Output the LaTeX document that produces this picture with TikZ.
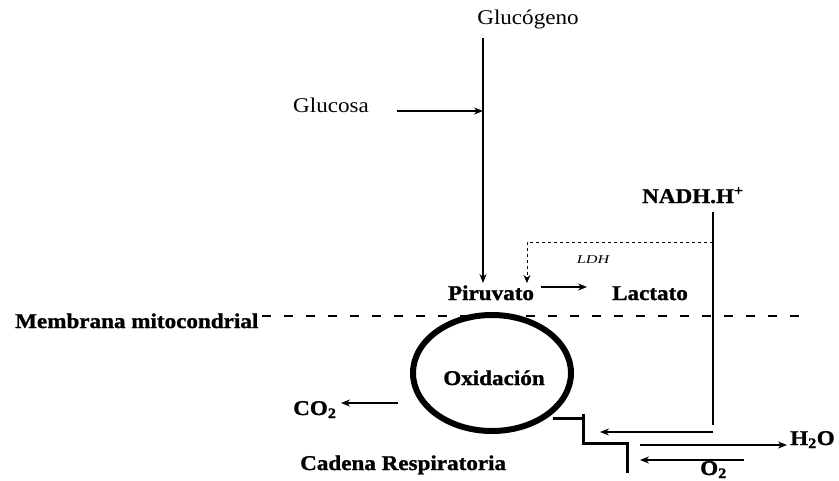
\documentclass[tikz,border=0pt]{standalone}
\usepackage{fontspec}
\setmainfont{Liberation Serif}[FakeStretch=1.1,BoldFeatures={FakeStretch=1.1,FakeBold=1.2}]
\newfontfamily\ldhfont{Liberation Serif}[FakeStretch=1.35]
\usetikzlibrary{arrows.meta}
\begin{document}
\begin{tikzpicture}[x=1pt,y=-1pt,
  txt/.style={inner sep=0pt,font=\fontsize{21}{24}\selectfont},
  btxt/.style={inner sep=0pt,font=\fontsize{21}{24}\selectfont\bfseries},
  arr/.style={line width=1.3pt,-{Stealth[length=9pt,width=7pt]}},
  ln/.style={line width=1.3pt},
  stair/.style={line width=3pt},
  memb/.style={line width=2.5pt,dash pattern=on 9pt off 13pt},
  dots/.style={line width=1pt,dash pattern=on 3pt off 3pt,-{Stealth[length=8pt,width=7pt]}}]
\useasboundingbox (0,0) rectangle (839,480);
% texts
\node[txt,anchor=base] (glucogeno) at (528,24) {Glucógeno};
\node[txt,anchor=base] (glucosa) at (331,112) {Glucosa};
\node[btxt,anchor=base west] (nadh) at (642,203) {NADH.H\textsuperscript{+}};
\node[inner sep=0pt,anchor=center,font=\fontsize{12}{13}\ldhfont\itshape] (ldh) at (593,260) {LDH};
\node[btxt,anchor=base] (piruvato) at (491,300) {Piruvato};
\node[btxt,anchor=base] (lactato) at (650,300) {Lactato};
\node[btxt,anchor=base west] (membrana) at (15,328) {Membrana mitocondrial};
\node[btxt,anchor=base] (oxidacion) at (494,385) {Oxidación};
\node[btxt,anchor=base west] (co2) at (293,415) {CO\textsubscript{2}};
\node[btxt,anchor=base west] (cadena) at (300,470) {Cadena Respiratoria};
\node[btxt,anchor=base west] (h2o) at (790,445) {H\textsubscript{2}O};
\node[btxt,anchor=base west] (o2) at (700,475) {O\textsubscript{2}};
% ellipse
\draw[line width=6pt] (492,373) ellipse [x radius=79, y radius=58];
% coordinates
\coordinate (gtop) at (483,38);
\coordinate (pirtop) at (483,283);
\coordinate (gsl) at (397,111);
\coordinate (gsr) at (483,111);
\coordinate (nadhtop) at (713,212);
\coordinate (nadhbot) at (713,425);
\coordinate (nadhdot) at (713,242);
\coordinate (dotcorner) at (527,242);
\coordinate (dottip) at (527,283);
\coordinate (pl1) at (541,287);
\coordinate (pl2) at (587,287);
\coordinate (ml) at (262,316);
\coordinate (mr) at (802,316);
\coordinate (co2s) at (398,403);
\coordinate (co2e) at (341,403);
\coordinate (s1) at (553,418);
\coordinate (s2) at (583,418);
\coordinate (s2t) at (583,414);
\coordinate (s3) at (583,443);
\coordinate (s4) at (627,443);
\coordinate (s5) at (627,473);
\coordinate (na1) at (713,432);
\coordinate (na2) at (600,432);
\coordinate (h1) at (640,445);
\coordinate (h2) at (787,445);
\coordinate (o1) at (744,460);
\coordinate (o2e) at (640,460);
% connectors
\draw[arr] (gtop) -- (pirtop);
\draw[arr] (gsl) -- (gsr);
\draw[ln] (nadhtop) -- (nadhbot);
\draw[dots] (nadhdot) -- (dotcorner) -- (dottip);
\draw[arr] (pl1) -- (pl2);
\draw[memb] (ml) -- (mr);
\draw[arr] (co2s) -- (co2e);
\draw[stair] (s1) -- (s2);
\draw[stair] (s2t) -- (s3) -- (s4) -- (s5);
\draw[arr] (na1) -- (na2);
\draw[arr] (h1) -- (h2);
\draw[arr] (o1) -- (o2e);
\end{tikzpicture}
\end{document}
